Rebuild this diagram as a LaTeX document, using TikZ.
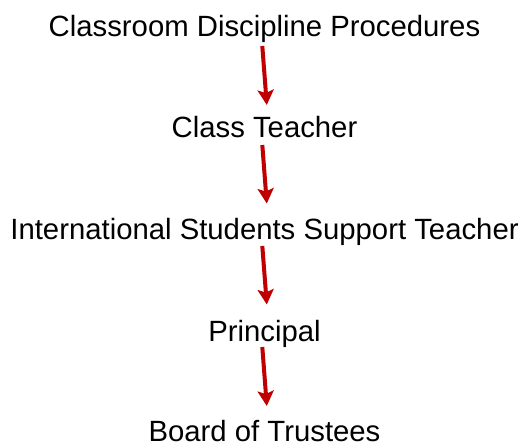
\documentclass[tikz,border=0pt]{standalone}
\usepackage{fontspec}
\setmainfont{Liberation Sans}
\usetikzlibrary{arrows.meta}
\definecolor{arrowred}{RGB}{192,0,0}
\begin{document}
\begin{tikzpicture}[x=1pt,y=-1pt,
  label/.style={anchor=base,inner sep=0pt,font=\fontsize{29.3}{35}\selectfont},
  flow/.style={draw=arrowred,line width=4pt,-{Stealth[length=15pt,width=16pt,inset=3pt]}}]
\useasboundingbox (0,0) rectangle (525,443);
\node[label] (n1) at (264.5,36.7) {Classroom Discipline Procedures};
\node[label] (n2) at (264.5,138) {Class Teacher};
\node[label] (n3) at (264.5,240) {International Students Support Teacher};
\node[label] (n4) at (264.5,341.7) {Principal};
\node[label] (n5) at (264.5,441.5) {Board of Trustees};
\coordinate (a1s) at (262.3,46);
\coordinate (a1e) at (266.8,105);
\coordinate (a2s) at (262.3,145);
\coordinate (a2e) at (266.8,203.5);
\coordinate (a3s) at (262.3,246);
\coordinate (a3e) at (266.8,304.5);
\coordinate (a4s) at (262.3,347);
\coordinate (a4e) at (266.8,406);
\draw[flow] (a1s) -- (a1e);
\draw[flow] (a2s) -- (a2e);
\draw[flow] (a3s) -- (a3e);
\draw[flow] (a4s) -- (a4e);
\end{tikzpicture}
\end{document}
